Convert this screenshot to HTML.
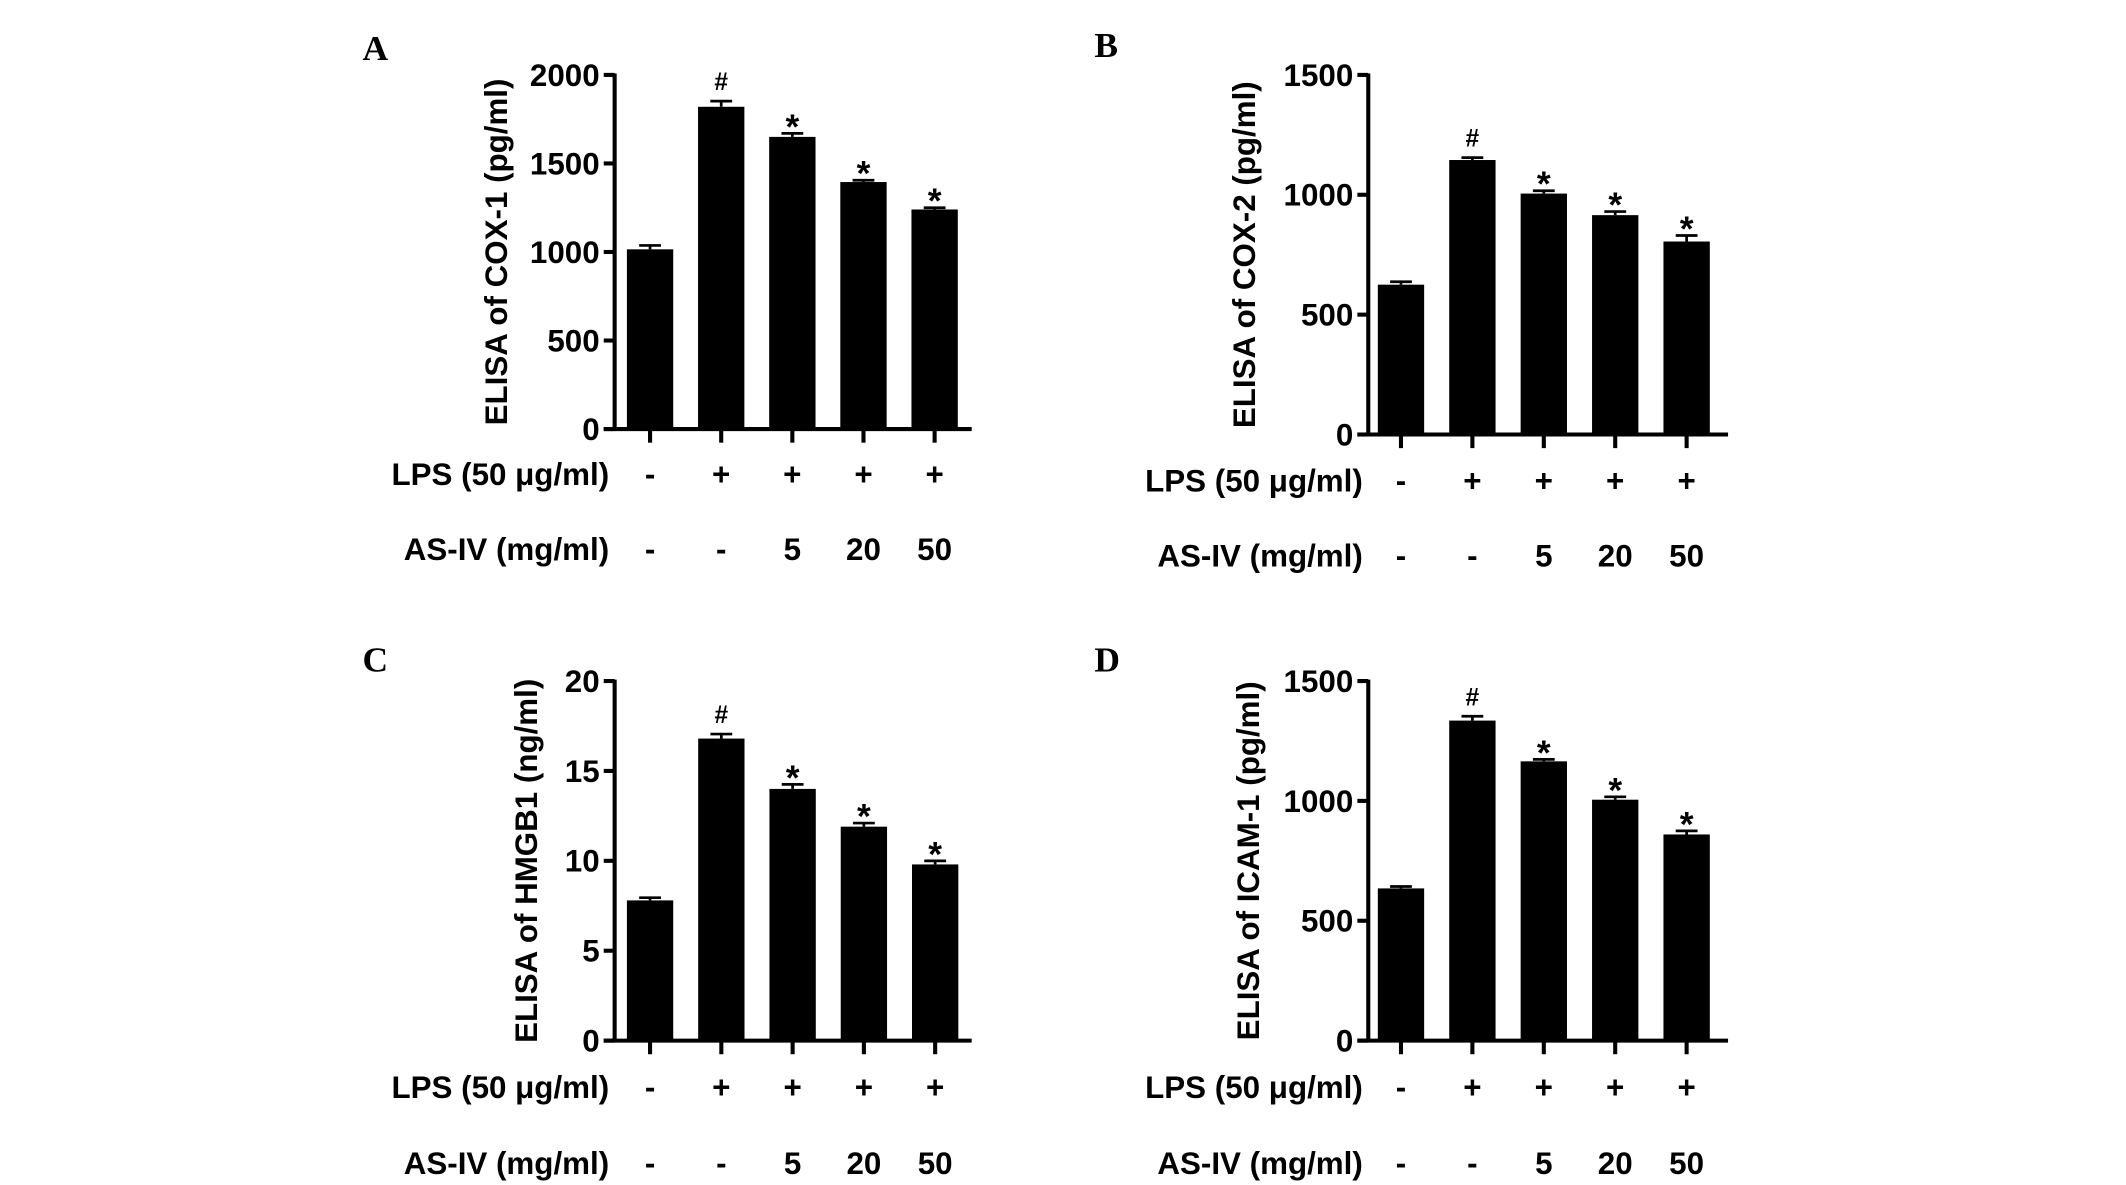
<!DOCTYPE html>
<html><head><meta charset="utf-8"><style>
html,body{margin:0;padding:0;background:#fff;}
svg{display:block;}
text{font-family:"Liberation Sans",Arial,sans-serif;font-weight:bold;fill:#000;}
.letter{font-family:"Liberation Serif",serif;font-size:26px;}
</style></head><body>
<svg id="fig" width="2126" height="1185" viewBox="0 0 1560 870" preserveAspectRatio="none" xmlns="http://www.w3.org/2000/svg"></svg>
<script>
const categories = ["ctrl","LPS","LPS+AS5","LPS+AS20","LPS+AS50"];
const lpsLabels = ["-","+","+","+","+"];
const asivLabels = ["-","-","5","20","50"];
const sigLabels = ["","#","*","*","*"];
const cox1Values = [1015,1820,1650,1395,1240];
const cox1Errors = [22,32,20,10,10];
const cox2Values = [625,1145,1005,915,805];
const cox2Errors = [12,10,12,15,25];
const hmgb1Values = [7.8,16.8,14.0,11.9,9.8];
const hmgb1Errors = [0.15,0.25,0.25,0.2,0.2];
const icam1Values = [635,1335,1165,1005,860];
const icam1Errors = [8,18,8,12,15];
const cox1Ticks = [0,500,1000,1500,2000];
const cox2Ticks = [0,500,1000,1500];
const hmgb1Ticks = [0,5,10,15,20];
const icam1Ticks = [0,500,1000,1500];

const NS="http://www.w3.org/2000/svg";
const svg=document.getElementById('fig');
function mk(tag,attrs,parent){const e=document.createElementNS(NS,tag);for(const k in attrs)e.setAttribute(k,attrs[k]);(parent||svg).appendChild(e);return e;}

const FS=23;
const panels=[
 {id:'a',letter:'A',lx:266,ly:44,ax:451,top:55,bottom:315,xEnd:713,bx0:477,step:52.2,titleX:372,rowL:348,rowA:403,title:'ELISA of COX-1 (pg/ml)',vals:cox1Values,errs:cox1Errors,ticks:cox1Ticks},
 {id:'b',letter:'B',lx:803,ly:42,ax:1004,top:55,bottom:319,xEnd:1268,bx0:1028,step:52.4,titleX:921,rowL:353,rowA:408,title:'ELISA of COX-2 (pg/ml)',vals:cox2Values,errs:cox2Errors,ticks:cox2Ticks},
 {id:'c',letter:'C',lx:266,ly:493,ax:451,top:500,bottom:764,xEnd:713,bx0:477,step:52.3,titleX:394,rowL:798,rowA:854,title:'ELISA of HMGB1 (ng/ml)',vals:hmgb1Values,errs:hmgb1Errors,ticks:hmgb1Ticks},
 {id:'d',letter:'D',lx:803,ly:493,ax:1004,top:500,bottom:764,xEnd:1268,bx0:1028,step:52.4,titleX:924,rowL:798,rowA:854,title:'ELISA of ICAM-1 (pg/ml)',vals:icam1Values,errs:icam1Errors,ticks:icam1Ticks}
];

panels.forEach(p=>{
  const g=mk('g',{});
  
  
  const maxT=p.ticks[p.ticks.length-1];
  const y=v=>p.bottom-(v/maxT)*(p.bottom-p.top);
  const x=i=>p.bx0+i*p.step;
  const bw=34;
  const L=mk('text',{x:p.lx,y:p.ly,class:'letter'},g);L.textContent=p.letter;
  
  
  p.vals.forEach((v,i)=>{
    const r=mk('rect',{x:x(i)-bw/2,y:y(v),width:bw,height:p.bottom-y(v),fill:'#000'},g);
    
    
    const e=p.errs[i], ye=y(v+e);
    const eb=mk('path',{d:`M${x(i)-8},${ye}H${x(i)+8}M${x(i)},${ye}V${y(v)}`,stroke:'#000','stroke-width':2,fill:'none'},g);
    
    
    if(sigLabels[i]){
      const isHash=sigLabels[i]==='#';
      const s=mk('text',{x:x(i),y:ye-(isHash?8:-4),'text-anchor':'middle','font-size':isHash?18:26},g);
      s.textContent=sigLabels[i];
      
      
    }
  });
  const ya=mk('line',{x1:p.ax,y1:p.top-1,x2:p.ax,y2:p.bottom+1,stroke:'#000','stroke-width':3},g);
  
  
  const xa=mk('line',{x1:p.ax-8,y1:p.bottom,x2:p.xEnd,y2:p.bottom,stroke:'#000','stroke-width':3},g);
  
  
  p.ticks.forEach(t=>{
    mk('line',{x1:p.ax-8,y1:y(t),x2:p.ax,y2:y(t),stroke:'#000','stroke-width':3},g);
    const tl=mk('text',{x:p.ax-11,y:y(t)+8,'text-anchor':'end','font-size':FS},g);
    tl.textContent=t;
    
    
  });
  categories.forEach((c,i)=>{
    mk('line',{x1:x(i),y1:p.bottom,x2:x(i),y2:p.bottom+10,stroke:'#000','stroke-width':3},g);
    const a=mk('text',{x:x(i),y:p.rowL+8,'text-anchor':'middle','font-size':FS},g);a.textContent=lpsLabels[i];
    
    
    const b=mk('text',{x:x(i),y:p.rowA+8,'text-anchor':'middle','font-size':FS},g);b.textContent=asivLabels[i];
    
    
  });
  const r1=mk('text',{x:p.ax-4,y:p.rowL+8,'text-anchor':'end','font-size':FS},g);r1.textContent='LPS (50 \u03bcg/ml)';
  
  
  const r2=mk('text',{x:p.ax-4,y:p.rowA+8,'text-anchor':'end','font-size':FS},g);r2.textContent='AS-IV (mg/ml)';
  
  
  const cy=(p.top+p.bottom)/2;
  const tt=mk('text',{x:0,y:0,'text-anchor':'middle','font-size':FS,transform:`translate(${p.titleX},${cy}) rotate(-90)`},g);
  tt.textContent=p.title;
  
  
});
</script>
</body></html>
